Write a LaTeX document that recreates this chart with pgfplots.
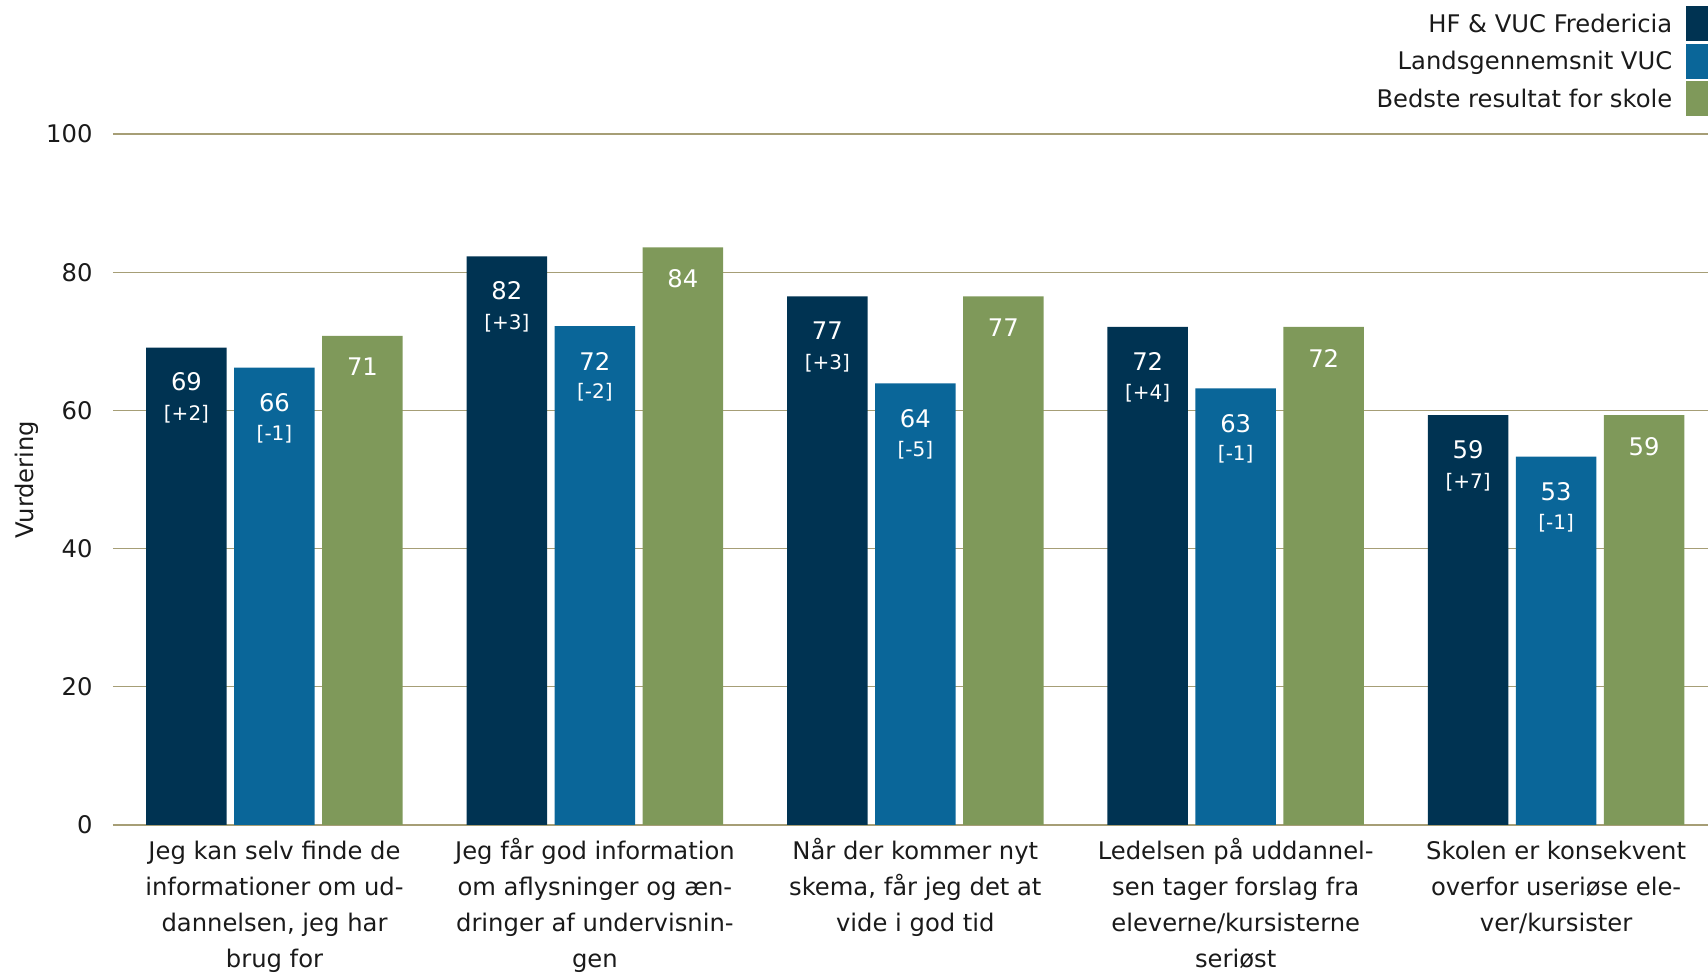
\documentclass[border=0pt]{standalone}
\usepackage{fontspec}
\setmainfont{DejaVu Sans}
\usepackage{pgfplots}
\usepackage{pgfplotstable}
\pgfplotsset{compat=1.18}
\definecolor{c1}{RGB}{0,51,82}
\definecolor{c2}{RGB}{10,102,153}
\definecolor{c3}{RGB}{127,153,90}
\definecolor{gridc}{RGB}{166,158,118}
\definecolor{txt}{RGB}{26,26,26}
\newcommand{\fl}{\rule{0pt}{9.5pt}}

\pgfplotstableread{
x y v d
0 69.1 69 +2
1 82.3 82 +3
2 76.5 77 +3
3 72.1 72 +4
4 59.3 59 +7
}\tabhf
\pgfplotstableread{
x y v d
0 66.2 66 -1
1 72.2 72 -2
2 63.9 64 -5
3 63.2 63 -1
4 53.3 53 -1
}\tablv
\pgfplotstableread{
x y v
0 70.8 71
1 83.6 84
2 76.5 77
3 72.1 72
4 59.3 59
}\tabbest

\begin{document}
\begin{tikzpicture}
\begin{axis}[
  name=ax, at={(0,0)}, anchor=south west,
  scale only axis, width=638pt, height=276.4pt,
  xmin=-0.504, xmax=4.474, ymin=0, ymax=100,
  ybar=3pt, bar width=32.2pt,
  axis x line=bottom, axis y line=left, axis line style={-},
  y axis line style={draw=none},
  x axis line style={draw=gridc, line width=0.8pt},
  ymajorgrids, grid style={gridc, line width=0.5pt},
  major tick length=0pt,
  ytick={0,20,...,100},
  xtick={0,1,2,3,4},
  xticklabels={
    {\fl Jeg kan selv finde de\\informationer om ud-\\dannelsen, jeg har\\brug for},
    {\fl Jeg får god information\\om aflysninger og æn-\\dringer af undervisnin-\\gen},
    {\fl Når der kommer nyt\\skema, får jeg det at\\vide i god tid},
    {\fl Ledelsen på uddannel-\\sen tager forslag fra\\eleverne/kursisterne\\seriøst},
    {\fl Skolen er konsekvent\\overfor useriøse ele-\\ver/kursister}},
  font=\fontsize{9.7}{14}\selectfont,
  /pgf/number format/assume math mode=true,
  yticklabel style={inner sep=0pt, xshift=-8pt, text=txt},
  xticklabel style={align=center, anchor=north, inner sep=0pt, yshift=-4.2pt, text=txt, font=\fontsize{9.7}{14.4}\selectfont},
  ylabel={Vurdering},
  every axis y label/.style={at={(axis description cs:0,0.5)}, xshift=-34.4pt, rotate=90, anchor=center, text=txt},
  legend cell align=right,
  legend plot pos=right,
  legend style={at={(1,1)}, anchor=north east, yshift=51.3pt, draw=none, fill=none,
    inner sep=0pt, row sep=1.0pt, column sep=5.6pt, nodes={inner sep=0pt, text=txt}},
  valnode/.style={every node near coord/.append style={anchor=north, yshift=#1, text=white, inner sep=0pt, font=\fontsize{9.7}{12}\selectfont}},
  deltanode/.style={every node near coord/.append style={anchor=north, yshift=#1, text=white, inner sep=0pt, font=\fontsize{8}{10}\selectfont}},
]
\addplot[fill=c1, draw=none, bar shift=-35.2pt,
  legend image code/.code={\fill[c1] (0pt,-6.6pt) rectangle (8.5pt,7.4pt);},
  point meta=explicit symbolic,
  nodes near coords={\pgfplotspointmeta}, valnode=-9.9pt]
  table[x=x,y=y,meta=v]{\tabhf};
\addlegendentry{HF \& VUC Fredericia}
\addplot[fill=c2, draw=none, bar shift=0pt,
  legend image code/.code={\fill[c2] (0pt,-6.6pt) rectangle (8.5pt,7.4pt);},
  point meta=explicit symbolic,
  nodes near coords={\pgfplotspointmeta}, valnode=-10.2pt]
  table[x=x,y=y,meta=v]{\tablv};
\addlegendentry{Landsgennemsnit VUC}
\addplot[fill=c3, draw=none, bar shift=35.2pt,
  legend image code/.code={\fill[c3] (0pt,-6.6pt) rectangle (8.5pt,7.4pt);},
  point meta=explicit symbolic,
  nodes near coords={\pgfplotspointmeta}, valnode=-8.7pt]
  table[x=x,y=y,meta=v]{\tabbest};
\addlegendentry{Bedste resultat for skole}
\addplot[draw=none, fill=none, bar shift=-35.2pt, forget plot,
  point meta=explicit symbolic,
  nodes near coords={[\pgfplotspointmeta]}, deltanode=-23pt]
  table[x=x,y=y,meta=d]{\tabhf};
\addplot[draw=none, fill=none, bar shift=0pt, forget plot,
  point meta=explicit symbolic,
  nodes near coords={[\pgfplotspointmeta]}, deltanode=-22.8pt]
  table[x=x,y=y,meta=d]{\tablv};
\end{axis}
\pgfresetboundingbox
\path[use as bounding box] ([xshift=-45.2pt,yshift=-59.6pt]ax.south west) rectangle ([yshift=53.6pt]ax.north east);
\end{tikzpicture}
\end{document}
